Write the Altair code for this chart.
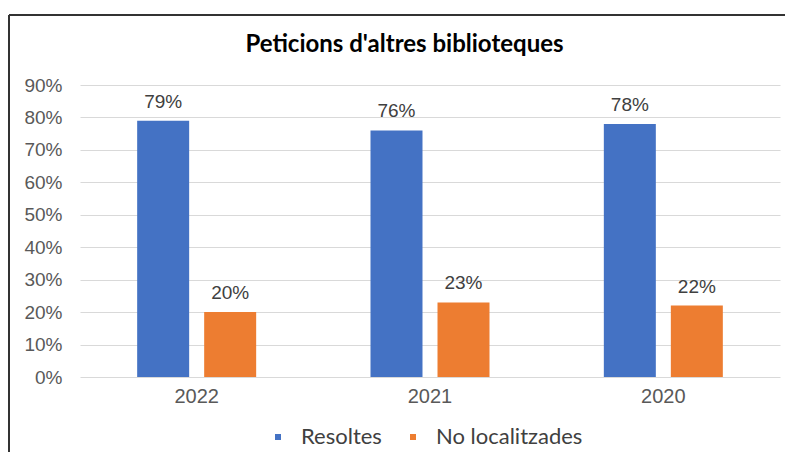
import altair as alt
import pandas as pd

years = ["2022", "2021", "2020"]
series = ["Resoltes", "No localitzades"]
resoltes = [0.79, 0.76, 0.78]
no_localitzades = [0.20, 0.23, 0.22]
colors = ["#4472C4", "#ED7D31"]

rows = []
for i, y in enumerate(years):
    rows.append({"year": y, "serie": series[0], "value": resoltes[i]})
    rows.append({"year": y, "serie": series[1], "value": no_localitzades[i]})
df = pd.DataFrame(rows)

FONT = "Liberation Sans"

x = alt.X("year:N", sort=years, title=None,
          scale=alt.Scale(paddingInner=0.49, paddingOuter=0.245),
          axis=alt.Axis(labelAngle=0, labelFontSize=20, labelColor="#595959",
                        labelFont=FONT, ticks=False, domain=False, labelPadding=9))
xo = alt.XOffset("serie:N", sort=series,
                 scale=alt.Scale(paddingInner=0.224, paddingOuter=0))
y = alt.Y("value:Q", title=None,
          scale=alt.Scale(domain=[0, 0.9]),
          axis=alt.Axis(format=".0%", values=[i / 10 for i in range(10)],
                        labelFontSize=19, labelColor="#595959", labelFont=FONT,
                        ticks=False, domain=False, gridColor="#d9d9d9",
                        labelPadding=18))
color = alt.Color("serie:N", sort=series,
                  scale=alt.Scale(domain=series, range=colors),
                  legend=alt.Legend(title=None, orient="none", direction="horizontal",
                                    legendX=187, legendY=341, symbolType="square",
                                    symbolSize=36, labelFontSize=22, labelFont="Lato",
                                    labelColor="#404040", labelOffset=12,
                                    columnPadding=20))

base = alt.Chart(df)
bars = base.mark_bar().encode(x=x, xOffset=xo, y=y, color=color)
labels = base.mark_text(dy=-9, baseline="bottom", fontSize=19, font=FONT,
                        color="#404040").encode(
    x=x, xOffset=xo, y=y, text=alt.Text("value:Q", format=".0%"))

frame_data = alt.Data(values=[{"a": 1}])
left_line = alt.Chart(frame_data).mark_rule(color="#333333", strokeWidth=2).encode(
    x=alt.value(-71), y=alt.value(-70), y2=alt.value(380))
top_line = alt.Chart(frame_data).mark_rule(color="#333333", strokeWidth=2).encode(
    x=alt.value(-71), x2=alt.value(720), y=alt.value(-70))

chart = alt.layer(bars, labels, left_line, top_line).properties(
    width=700, height=292,
    title=alt.TitleParams("Peticions d'altres biblioteques", font="Lato",
                          fontSize=24, fontWeight="bold", color="#000000",
                          anchor="middle", frame="bounds", offset=-43),
    autosize=alt.AutoSizeParams(type="none"),
    padding={"left": 72, "top": 77, "right": 5, "bottom": 75},
).configure_view(stroke=None)

chart.save("out.html", embed_options={"renderer": "svg", "actions": False})
